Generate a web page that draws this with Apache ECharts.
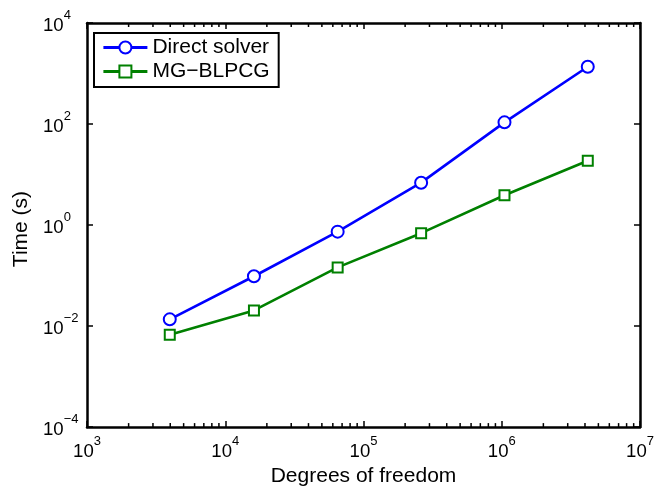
<!DOCTYPE html>
<html>
<head>
<meta charset="utf-8">
<script src="https://cdn.jsdelivr.net/npm/echarts@6/dist/echarts.min.js"></script>
<style>html,body{margin:0;padding:0;background:#fff}#c{width:658px;height:492px}</style>
</head>
<body>
<div id="c"></div>
<script>
// ---- data ----
const dofs = [3969, 16129, 65025, 261121, 1046529, 4190209];
const directSolver = [0.0136, 0.097, 0.74, 6.9, 108, 1360];
const mgBlpcg = [0.0067, 0.0204, 0.145, 0.69, 3.9, 18.7];
const seriesNames = ['Direct solver', 'MG\u2212BLPCG'];
const xTickExponents = [3, 4, 5, 6, 7];
const yTickExponents = [-4, -2, 0, 2, 4];
const xMin = 1e3, xMax = 1e7, yMin = 1e-4, yMax = 1e4;
// minor tick positions on x (2..9 per decade)
const xMinorTicks = [];
for (let e = 3; e < 7; e++) for (let m = 2; m <= 9; m++) xMinorTicks.push(m * Math.pow(10, e));

const FONT = "'Liberation Sans', Arial, Helvetica, sans-serif";
function expLabel(v) {
  const e = Math.round(Math.log10(v));
  const s = (e < 0 ? '\u2212' + Math.abs(e) : String(e));
  return '{b|10}{s|' + s + '}';
}
const rich = {
  b: { fontSize: 18.6, fontFamily: FONT, color: '#000', lineHeight: 24, verticalAlign: 'bottom' },
  s: { fontSize: 13, fontFamily: FONT, color: '#000', lineHeight: 14, padding: [0, 0, 13, 0], verticalAlign: 'bottom' }
};

const chart = echarts.init(document.getElementById('c'), null, { renderer: 'canvas' });
const axisLine = { show: true, lineStyle: { color: '#000', width: 2.5 } };
const axisTick = { show: true, inside: true, length: 6, lineStyle: { color: '#000', width: 1.5 } };

chart.setOption({
  animation: false,
  backgroundColor: '#fff',
  grid: { left: 87, top: 23, width: 553, height: 407, containLabel: false },
  legend: {
    data: seriesNames,
    orient: 'vertical',
    left: 94, top: 33,
    padding: [4, 9, 5, 8],
    itemGap: 3,
    itemWidth: 44,
    itemHeight: 15,
    lineStyle: { width: 2.8 },
    borderColor: '#000', borderWidth: 2, backgroundColor: '#fff',
    textStyle: { fontSize: 21, fontFamily: FONT, color: '#000' }
  },
  xAxis: [
    {
      type: 'log', logBase: 10, min: xMin, max: xMax, position: 'bottom',
      name: 'Degrees of freedom', nameLocation: 'middle', nameGap: 38,
      nameTextStyle: { fontSize: 21, fontFamily: FONT, color: '#000', lineHeight: 21 },
      axisLine: axisLine, axisTick: axisTick, splitLine: { show: false },
      axisLabel: { margin: 10, formatter: expLabel, rich: rich, showMinLabel: true, showMaxLabel: true }
    },
    {
      type: 'log', logBase: 10, min: xMin, max: xMax, position: 'top',
      axisLine: axisLine, axisTick: axisTick, splitLine: { show: false },
      axisLabel: { show: false }
    }
  ],
  yAxis: [
    {
      type: 'log', logBase: 10, min: yMin, max: yMax, interval: 2, position: 'left',
      name: 'Time (s)', nameLocation: 'middle', nameGap: 54,
      nameTextStyle: { fontSize: 21, fontFamily: FONT, color: '#000', lineHeight: 21, padding: [0, 8, 0, 0] },
      axisLine: axisLine, axisTick: axisTick, splitLine: { show: false },
      axisLabel: { margin: 44, align: 'left', formatter: expLabel, rich: rich, showMinLabel: true, showMaxLabel: true }
    },
    {
      type: 'log', logBase: 10, min: yMin, max: yMax, interval: 2, position: 'right',
      axisLine: axisLine, axisTick: axisTick, splitLine: { show: false },
      axisLabel: { show: false }
    }
  ],
  series: [
    {
      name: seriesNames[0], type: 'line',
      data: dofs.map((x, i) => [x, directSolver[i]]),
      symbol: 'emptyCircle', symbolSize: 12,
      lineStyle: { color: '#0000ff', width: 2.6 },
      itemStyle: { color: '#0000ff', borderColor: '#0000ff', borderWidth: 2.6 },
      z: 3
    },
    {
      name: seriesNames[1], type: 'line',
      data: dofs.map((x, i) => [x, mgBlpcg[i]]),
      symbol: 'emptyRect', symbolSize: 10,
      lineStyle: { color: '#008000', width: 2.6 },
      itemStyle: { color: '#008000', borderColor: '#008000', borderWidth: 2.6 },
      z: 3
    },
    {
      type: 'custom', silent: true, clip: false,
      data: xMinorTicks.map(v => [v, 1]),
      encode: { x: 0, y: 1 },
      renderItem: function (params, api) {
        const v = api.value(0);
        const pb = api.coord([v, yMin]);
        const pt = api.coord([v, yMax]);
        return {
          type: 'group', children: [
            { type: 'line', shape: { x1: pb[0], y1: pb[1], x2: pb[0], y2: pb[1] - 4 }, style: { stroke: '#000', lineWidth: 1.5 } },
            { type: 'line', shape: { x1: pt[0], y1: pt[1], x2: pt[0], y2: pt[1] + 4 }, style: { stroke: '#000', lineWidth: 1.5 } }
          ]
        };
      }
    }
  ]
});
</script>
</body>
</html>
